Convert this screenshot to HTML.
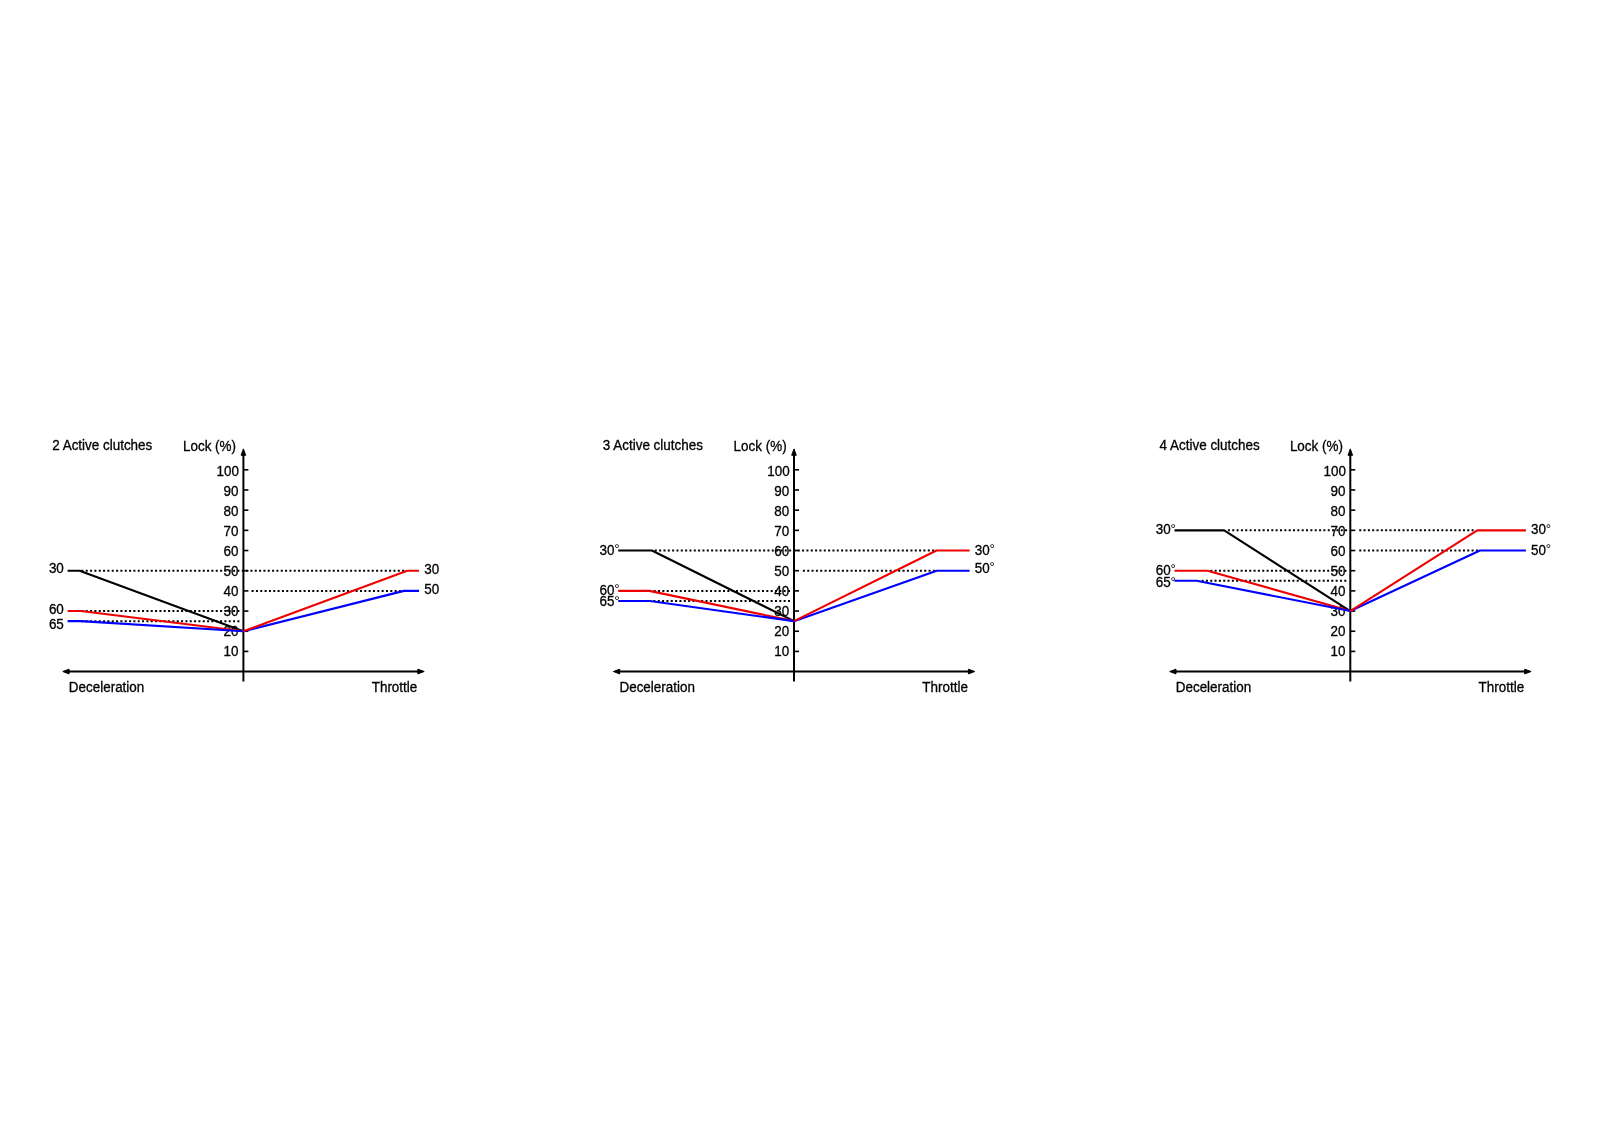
<!DOCTYPE html>
<html><head><meta charset="utf-8"><title>Active clutches lock</title>
<style>
html,body{margin:0;padding:0;background:#fff;}
svg{display:block;will-change:transform;}
.t{font-family:"Liberation Sans", Arial, sans-serif;font-size:14px;fill:#000;stroke:#000;stroke-width:0.3px;}
.a{stroke:#000;stroke-width:2;fill:none;}
.ah{fill:#000;stroke:#000;stroke-width:1;stroke-linejoin:round;}
.k{stroke:#000;stroke-width:1.6;}
.dt{fill:#000;}
.dg{stroke:none;}
.r{stroke:#ee0000;stroke-width:2.1;fill:none;stroke-linejoin:round;}
.b{stroke:#00f;stroke-width:2.1;fill:none;stroke-linejoin:round;}
.n{stroke:#000;stroke-width:2.1;fill:none;stroke-linejoin:round;}
</style></head>
<body>
<svg width="1600" height="1131" viewBox="0 0 1600 1131">
<rect width="1600" height="1131" fill="#fff"/>
<text transform="translate(52.2,449.65) scale(0.96,1)" class="t">2 Active clutches</text>
<text transform="translate(183,450.5) scale(0.96,1)" class="t">Lock (%)</text>
<path d="M81.4 569.7h2v2h-2zM85.73 569.7h2v2h-2zM90.07 569.7h2v2h-2zM94.4 569.7h2v2h-2zM98.74 569.7h2v2h-2zM103.07 569.7h2v2h-2zM107.4 569.7h2v2h-2zM111.74 569.7h2v2h-2zM116.07 569.7h2v2h-2zM120.4 569.7h2v2h-2zM124.74 569.7h2v2h-2zM129.07 569.7h2v2h-2zM133.41 569.7h2v2h-2zM137.74 569.7h2v2h-2zM142.07 569.7h2v2h-2zM146.41 569.7h2v2h-2zM150.74 569.7h2v2h-2zM155.07 569.7h2v2h-2zM159.41 569.7h2v2h-2zM163.74 569.7h2v2h-2zM168.08 569.7h2v2h-2zM172.41 569.7h2v2h-2zM176.74 569.7h2v2h-2zM181.08 569.7h2v2h-2zM185.41 569.7h2v2h-2zM189.74 569.7h2v2h-2zM194.08 569.7h2v2h-2zM198.41 569.7h2v2h-2zM202.75 569.7h2v2h-2zM207.08 569.7h2v2h-2zM211.41 569.7h2v2h-2zM215.75 569.7h2v2h-2zM220.08 569.7h2v2h-2zM224.41 569.7h2v2h-2zM228.75 569.7h2v2h-2zM233.08 569.7h2v2h-2zM237.42 569.7h2v2h-2zM241.75 569.7h2v2h-2zM246.08 569.7h2v2h-2zM250.42 569.7h2v2h-2zM254.75 569.7h2v2h-2zM259.09 569.7h2v2h-2zM263.42 569.7h2v2h-2zM267.75 569.7h2v2h-2zM272.09 569.7h2v2h-2zM276.42 569.7h2v2h-2zM280.75 569.7h2v2h-2zM285.09 569.7h2v2h-2zM289.42 569.7h2v2h-2zM293.76 569.7h2v2h-2zM298.09 569.7h2v2h-2zM302.42 569.7h2v2h-2zM306.76 569.7h2v2h-2zM311.09 569.7h2v2h-2zM315.42 569.7h2v2h-2zM319.76 569.7h2v2h-2zM324.09 569.7h2v2h-2zM328.43 569.7h2v2h-2zM332.76 569.7h2v2h-2zM337.09 569.7h2v2h-2zM341.43 569.7h2v2h-2zM345.76 569.7h2v2h-2zM350.09 569.7h2v2h-2zM354.43 569.7h2v2h-2zM358.76 569.7h2v2h-2zM363.1 569.7h2v2h-2zM367.43 569.7h2v2h-2zM371.76 569.7h2v2h-2zM376.1 569.7h2v2h-2zM380.43 569.7h2v2h-2zM384.76 569.7h2v2h-2zM389.1 569.7h2v2h-2zM393.43 569.7h2v2h-2zM397.77 569.7h2v2h-2zM402.1 569.7h2v2h-2z" class="dt"/>
<path d="M251.6 589.88h2v2h-2zM255.93 589.88h2v2h-2zM260.27 589.88h2v2h-2zM264.6 589.88h2v2h-2zM268.94 589.88h2v2h-2zM273.27 589.88h2v2h-2zM277.61 589.88h2v2h-2zM281.94 589.88h2v2h-2zM286.27 589.88h2v2h-2zM290.61 589.88h2v2h-2zM294.94 589.88h2v2h-2zM299.28 589.88h2v2h-2zM303.61 589.88h2v2h-2zM307.95 589.88h2v2h-2zM312.28 589.88h2v2h-2zM316.61 589.88h2v2h-2zM320.95 589.88h2v2h-2zM325.28 589.88h2v2h-2zM329.62 589.88h2v2h-2zM333.95 589.88h2v2h-2zM338.29 589.88h2v2h-2zM342.62 589.88h2v2h-2zM346.95 589.88h2v2h-2zM351.29 589.88h2v2h-2zM355.62 589.88h2v2h-2zM359.96 589.88h2v2h-2zM364.29 589.88h2v2h-2zM368.63 589.88h2v2h-2zM372.96 589.88h2v2h-2zM377.29 589.88h2v2h-2zM381.63 589.88h2v2h-2zM385.96 589.88h2v2h-2zM390.3 589.88h2v2h-2zM394.63 589.88h2v2h-2zM398.97 589.88h2v2h-2zM403.3 589.88h2v2h-2z" class="dt"/>
<path d="M81.4 610.06h2v2h-2zM85.73 610.06h2v2h-2zM90.07 610.06h2v2h-2zM94.4 610.06h2v2h-2zM98.73 610.06h2v2h-2zM103.07 610.06h2v2h-2zM107.4 610.06h2v2h-2zM111.73 610.06h2v2h-2zM116.07 610.06h2v2h-2zM120.4 610.06h2v2h-2zM124.73 610.06h2v2h-2zM129.07 610.06h2v2h-2zM133.4 610.06h2v2h-2zM137.73 610.06h2v2h-2zM142.07 610.06h2v2h-2zM146.4 610.06h2v2h-2zM150.73 610.06h2v2h-2zM155.07 610.06h2v2h-2zM159.4 610.06h2v2h-2zM163.73 610.06h2v2h-2zM168.07 610.06h2v2h-2zM172.4 610.06h2v2h-2zM176.73 610.06h2v2h-2zM181.07 610.06h2v2h-2zM185.4 610.06h2v2h-2zM189.73 610.06h2v2h-2zM194.07 610.06h2v2h-2zM198.4 610.06h2v2h-2zM202.73 610.06h2v2h-2zM207.07 610.06h2v2h-2zM211.4 610.06h2v2h-2zM215.73 610.06h2v2h-2zM220.07 610.06h2v2h-2zM224.4 610.06h2v2h-2zM228.73 610.06h2v2h-2zM233.07 610.06h2v2h-2zM237.4 610.06h2v2h-2z" class="dt"/>
<path d="M81.4 620.15h2v2h-2zM85.73 620.15h2v2h-2zM90.07 620.15h2v2h-2zM94.4 620.15h2v2h-2zM98.73 620.15h2v2h-2zM103.07 620.15h2v2h-2zM107.4 620.15h2v2h-2zM111.73 620.15h2v2h-2zM116.07 620.15h2v2h-2zM120.4 620.15h2v2h-2zM124.73 620.15h2v2h-2zM129.07 620.15h2v2h-2zM133.4 620.15h2v2h-2zM137.73 620.15h2v2h-2zM142.07 620.15h2v2h-2zM146.4 620.15h2v2h-2zM150.73 620.15h2v2h-2zM155.07 620.15h2v2h-2zM159.4 620.15h2v2h-2zM163.73 620.15h2v2h-2zM168.07 620.15h2v2h-2zM172.4 620.15h2v2h-2zM176.73 620.15h2v2h-2zM181.07 620.15h2v2h-2zM185.4 620.15h2v2h-2zM189.73 620.15h2v2h-2zM194.07 620.15h2v2h-2zM198.4 620.15h2v2h-2zM202.73 620.15h2v2h-2zM207.07 620.15h2v2h-2zM211.4 620.15h2v2h-2zM215.73 620.15h2v2h-2zM220.07 620.15h2v2h-2zM224.4 620.15h2v2h-2zM228.73 620.15h2v2h-2zM233.07 620.15h2v2h-2zM237.4 620.15h2v2h-2z" class="dt"/>
<line x1="243.4" y1="455" x2="243.4" y2="681.5" class="a"/>
<path d="M243.4 448.9 L245.7 455.3 L241.1 455.3 Z" class="ah"/>
<line x1="68.4" y1="671.6" x2="418.4" y2="671.6" class="a"/>
<path d="M62.8 671.5 L69.1 669.2 L69.1 673.9 Z" class="ah"/>
<path d="M424.2 671.5 L417.8 669.2 L417.8 673.9 Z" class="ah"/>
<line x1="243.4" y1="651.42" x2="248.4" y2="651.42" class="k"/>
<text transform="translate(223.6,656.25) scale(0.96,1)" class="t">10</text>
<line x1="243.4" y1="631.24" x2="248.4" y2="631.24" class="k"/>
<text transform="translate(223.6,636.2) scale(0.96,1)" class="t">20</text>
<line x1="243.4" y1="611.06" x2="248.4" y2="611.06" class="k"/>
<text transform="translate(223.6,616.15) scale(0.96,1)" class="t">30</text>
<line x1="243.4" y1="590.88" x2="248.4" y2="590.88" class="k"/>
<text transform="translate(223.6,596.1) scale(0.96,1)" class="t">40</text>
<line x1="243.4" y1="570.7" x2="248.4" y2="570.7" class="k"/>
<text transform="translate(223.6,576.05) scale(0.96,1)" class="t">50</text>
<line x1="243.4" y1="550.52" x2="248.4" y2="550.52" class="k"/>
<text transform="translate(223.6,556) scale(0.96,1)" class="t">60</text>
<line x1="243.4" y1="530.34" x2="248.4" y2="530.34" class="k"/>
<text transform="translate(223.6,535.95) scale(0.96,1)" class="t">70</text>
<line x1="243.4" y1="510.16" x2="248.4" y2="510.16" class="k"/>
<text transform="translate(223.6,515.9) scale(0.96,1)" class="t">80</text>
<line x1="243.4" y1="489.98" x2="248.4" y2="489.98" class="k"/>
<text transform="translate(223.6,495.85) scale(0.96,1)" class="t">90</text>
<line x1="243.4" y1="469.8" x2="248.4" y2="469.8" class="k"/>
<text transform="translate(216.6,475.8) scale(0.96,1)" class="t">100</text>
<text transform="translate(68.85,691.7) scale(0.96,1)" class="t">Deceleration</text>
<text transform="translate(371.7,691.7) scale(0.96,1)" class="t">Throttle</text>
<polyline points="67.6,570.7 79.6,570.7 243.4,631.24" class="n"/>
<polyline points="67.6,611.06 80.9,611.06 243.4,631.24" class="r"/>
<polyline points="67.6,621.15 80.6,621.15 243.4,631.24" class="b"/>
<polyline points="243.4,631.24 403.9,590.88 419,590.88" class="b"/>
<polyline points="243.4,631.24 407.2,570.7 419,570.7" class="r"/>
<text transform="translate(48.9,572.75) scale(0.96,1)" class="t">30</text>
<text transform="translate(48.9,614.45) scale(0.96,1)" class="t">60</text>
<text transform="translate(48.9,628.8) scale(0.96,1)" class="t">65</text>
<text transform="translate(424.2,574) scale(0.96,1)" class="t">30</text>
<text transform="translate(424.2,594.2) scale(0.96,1)" class="t">50</text>
<text transform="translate(602.8,449.65) scale(0.96,1)" class="t">3 Active clutches</text>
<text transform="translate(733.6,450.5) scale(0.96,1)" class="t">Lock (%)</text>
<path d="M654.8 549.52h2v2h-2zM659.13 549.52h2v2h-2zM663.47 549.52h2v2h-2zM667.8 549.52h2v2h-2zM672.13 549.52h2v2h-2zM676.46 549.52h2v2h-2zM680.8 549.52h2v2h-2zM685.13 549.52h2v2h-2zM689.46 549.52h2v2h-2zM693.8 549.52h2v2h-2zM698.13 549.52h2v2h-2zM702.46 549.52h2v2h-2zM706.79 549.52h2v2h-2zM711.13 549.52h2v2h-2zM715.46 549.52h2v2h-2zM719.79 549.52h2v2h-2zM724.12 549.52h2v2h-2zM728.46 549.52h2v2h-2zM732.79 549.52h2v2h-2zM737.12 549.52h2v2h-2zM741.46 549.52h2v2h-2zM745.79 549.52h2v2h-2zM750.12 549.52h2v2h-2zM754.45 549.52h2v2h-2zM758.79 549.52h2v2h-2zM763.12 549.52h2v2h-2zM767.45 549.52h2v2h-2zM771.79 549.52h2v2h-2zM776.12 549.52h2v2h-2zM780.45 549.52h2v2h-2zM784.78 549.52h2v2h-2zM789.12 549.52h2v2h-2zM793.45 549.52h2v2h-2zM797.78 549.52h2v2h-2zM802.12 549.52h2v2h-2zM806.45 549.52h2v2h-2zM810.78 549.52h2v2h-2zM815.11 549.52h2v2h-2zM819.45 549.52h2v2h-2zM823.78 549.52h2v2h-2zM828.11 549.52h2v2h-2zM832.45 549.52h2v2h-2zM836.78 549.52h2v2h-2zM841.11 549.52h2v2h-2zM845.44 549.52h2v2h-2zM849.78 549.52h2v2h-2zM854.11 549.52h2v2h-2zM858.44 549.52h2v2h-2zM862.77 549.52h2v2h-2zM867.11 549.52h2v2h-2zM871.44 549.52h2v2h-2zM875.77 549.52h2v2h-2zM880.11 549.52h2v2h-2zM884.44 549.52h2v2h-2zM888.77 549.52h2v2h-2zM893.1 549.52h2v2h-2zM897.44 549.52h2v2h-2zM901.77 549.52h2v2h-2zM906.1 549.52h2v2h-2zM910.44 549.52h2v2h-2zM914.77 549.52h2v2h-2zM919.1 549.52h2v2h-2zM923.43 549.52h2v2h-2zM927.77 549.52h2v2h-2zM932.1 549.52h2v2h-2z" class="dt"/>
<path d="M802.9 569.7h2v2h-2zM807.23 569.7h2v2h-2zM811.57 569.7h2v2h-2zM815.9 569.7h2v2h-2zM820.23 569.7h2v2h-2zM824.57 569.7h2v2h-2zM828.9 569.7h2v2h-2zM833.23 569.7h2v2h-2zM837.57 569.7h2v2h-2zM841.9 569.7h2v2h-2zM846.23 569.7h2v2h-2zM850.57 569.7h2v2h-2zM854.9 569.7h2v2h-2zM859.23 569.7h2v2h-2zM863.57 569.7h2v2h-2zM867.9 569.7h2v2h-2zM872.23 569.7h2v2h-2zM876.57 569.7h2v2h-2zM880.9 569.7h2v2h-2zM885.23 569.7h2v2h-2zM889.57 569.7h2v2h-2zM893.9 569.7h2v2h-2zM898.23 569.7h2v2h-2zM902.57 569.7h2v2h-2zM906.9 569.7h2v2h-2zM911.23 569.7h2v2h-2zM915.57 569.7h2v2h-2zM919.9 569.7h2v2h-2zM924.23 569.7h2v2h-2zM928.57 569.7h2v2h-2zM932.9 569.7h2v2h-2z" class="dt"/>
<path d="M653.7 589.88h2v2h-2zM658.03 589.88h2v2h-2zM662.36 589.88h2v2h-2zM666.7 589.88h2v2h-2zM671.03 589.88h2v2h-2zM675.36 589.88h2v2h-2zM679.69 589.88h2v2h-2zM684.03 589.88h2v2h-2zM688.36 589.88h2v2h-2zM692.69 589.88h2v2h-2zM697.02 589.88h2v2h-2zM701.35 589.88h2v2h-2zM705.69 589.88h2v2h-2zM710.02 589.88h2v2h-2zM714.35 589.88h2v2h-2zM718.68 589.88h2v2h-2zM723.02 589.88h2v2h-2zM727.35 589.88h2v2h-2zM731.68 589.88h2v2h-2zM736.01 589.88h2v2h-2zM740.35 589.88h2v2h-2zM744.68 589.88h2v2h-2zM749.01 589.88h2v2h-2zM753.34 589.88h2v2h-2zM757.67 589.88h2v2h-2zM762.01 589.88h2v2h-2zM766.34 589.88h2v2h-2zM770.67 589.88h2v2h-2zM775 589.88h2v2h-2zM779.34 589.88h2v2h-2zM783.67 589.88h2v2h-2zM788 589.88h2v2h-2z" class="dt"/>
<path d="M653.4 599.97h2v2h-2zM657.74 599.97h2v2h-2zM662.08 599.97h2v2h-2zM666.43 599.97h2v2h-2zM670.77 599.97h2v2h-2zM675.11 599.97h2v2h-2zM679.45 599.97h2v2h-2zM683.79 599.97h2v2h-2zM688.14 599.97h2v2h-2zM692.48 599.97h2v2h-2zM696.82 599.97h2v2h-2zM701.16 599.97h2v2h-2zM705.5 599.97h2v2h-2zM709.85 599.97h2v2h-2zM714.19 599.97h2v2h-2zM718.53 599.97h2v2h-2zM722.87 599.97h2v2h-2zM727.21 599.97h2v2h-2zM731.55 599.97h2v2h-2zM735.9 599.97h2v2h-2zM740.24 599.97h2v2h-2zM744.58 599.97h2v2h-2zM748.92 599.97h2v2h-2zM753.26 599.97h2v2h-2zM757.61 599.97h2v2h-2zM761.95 599.97h2v2h-2zM766.29 599.97h2v2h-2zM770.63 599.97h2v2h-2zM774.97 599.97h2v2h-2zM779.32 599.97h2v2h-2zM783.66 599.97h2v2h-2zM788 599.97h2v2h-2z" class="dt"/>
<line x1="794" y1="455" x2="794" y2="681.5" class="a"/>
<path d="M794 448.9 L796.3 455.3 L791.7 455.3 Z" class="ah"/>
<line x1="619" y1="671.6" x2="969" y2="671.6" class="a"/>
<path d="M613.4 671.5 L619.7 669.2 L619.7 673.9 Z" class="ah"/>
<path d="M974.8 671.5 L968.4 669.2 L968.4 673.9 Z" class="ah"/>
<line x1="794" y1="651.42" x2="799" y2="651.42" class="k"/>
<text transform="translate(774.2,656.25) scale(0.96,1)" class="t">10</text>
<line x1="794" y1="631.24" x2="799" y2="631.24" class="k"/>
<text transform="translate(774.2,636.2) scale(0.96,1)" class="t">20</text>
<line x1="794" y1="611.06" x2="799" y2="611.06" class="k"/>
<text transform="translate(774.2,616.15) scale(0.96,1)" class="t">30</text>
<line x1="794" y1="590.88" x2="799" y2="590.88" class="k"/>
<text transform="translate(774.2,596.1) scale(0.96,1)" class="t">40</text>
<line x1="794" y1="570.7" x2="799" y2="570.7" class="k"/>
<text transform="translate(774.2,576.05) scale(0.96,1)" class="t">50</text>
<line x1="794" y1="550.52" x2="799" y2="550.52" class="k"/>
<text transform="translate(774.2,556) scale(0.96,1)" class="t">60</text>
<line x1="794" y1="530.34" x2="799" y2="530.34" class="k"/>
<text transform="translate(774.2,535.95) scale(0.96,1)" class="t">70</text>
<line x1="794" y1="510.16" x2="799" y2="510.16" class="k"/>
<text transform="translate(774.2,515.9) scale(0.96,1)" class="t">80</text>
<line x1="794" y1="489.98" x2="799" y2="489.98" class="k"/>
<text transform="translate(774.2,495.85) scale(0.96,1)" class="t">90</text>
<line x1="794" y1="469.8" x2="799" y2="469.8" class="k"/>
<text transform="translate(767.2,475.8) scale(0.96,1)" class="t">100</text>
<text transform="translate(619.45,691.7) scale(0.96,1)" class="t">Deceleration</text>
<text transform="translate(922.3,691.7) scale(0.96,1)" class="t">Throttle</text>
<polyline points="618.2,550.52 651.9,550.52 794,621.15" class="n"/>
<polyline points="618.2,590.88 649.4,590.88 794,621.15" class="r"/>
<polyline points="618.2,600.97 649.8,600.97 794,621.15" class="b"/>
<polyline points="794,621.15 936.75,570.7 969.6,570.7" class="b"/>
<polyline points="794,621.15 936.5,550.52 969.6,550.52" class="r"/>
<text transform="translate(599.5,554.9) scale(0.96,1)" class="t">30<tspan dx="-0.3" dy="-0.5" class="dg">°</tspan></text>
<text transform="translate(599.5,594.5) scale(0.96,1)" class="t">60<tspan dx="-0.3" dy="-0.5" class="dg">°</tspan></text>
<text transform="translate(599.5,606.2) scale(0.96,1)" class="t">65<tspan dx="-0.3" dy="-0.5" class="dg">°</tspan></text>
<text transform="translate(974.8,554.9) scale(0.96,1)" class="t">30<tspan dx="-0.3" dy="-0.5" class="dg">°</tspan></text>
<text transform="translate(974.8,572.6) scale(0.96,1)" class="t">50<tspan dx="-0.3" dy="-0.5" class="dg">°</tspan></text>
<text transform="translate(1159.6,449.65) scale(0.96,1)" class="t">4 Active clutches</text>
<text transform="translate(1289.9,450.5) scale(0.96,1)" class="t">Lock (%)</text>
<path d="M1227.9 529.34h2v2h-2zM1232.24 529.34h2v2h-2zM1236.58 529.34h2v2h-2zM1240.92 529.34h2v2h-2zM1245.26 529.34h2v2h-2zM1249.6 529.34h2v2h-2zM1253.94 529.34h2v2h-2zM1258.29 529.34h2v2h-2zM1262.63 529.34h2v2h-2zM1266.97 529.34h2v2h-2zM1271.31 529.34h2v2h-2zM1275.65 529.34h2v2h-2zM1279.99 529.34h2v2h-2zM1284.33 529.34h2v2h-2zM1288.67 529.34h2v2h-2zM1293.01 529.34h2v2h-2zM1297.35 529.34h2v2h-2zM1301.69 529.34h2v2h-2zM1306.03 529.34h2v2h-2zM1310.37 529.34h2v2h-2zM1314.71 529.34h2v2h-2zM1319.06 529.34h2v2h-2zM1323.4 529.34h2v2h-2zM1327.74 529.34h2v2h-2zM1332.08 529.34h2v2h-2zM1336.42 529.34h2v2h-2zM1340.76 529.34h2v2h-2zM1345.1 529.34h2v2h-2z" class="dt"/>
<path d="M1359.25 529.34h2v2h-2zM1363.57 529.34h2v2h-2zM1367.89 529.34h2v2h-2zM1372.21 529.34h2v2h-2zM1376.53 529.34h2v2h-2zM1380.86 529.34h2v2h-2zM1385.18 529.34h2v2h-2zM1389.5 529.34h2v2h-2zM1393.82 529.34h2v2h-2zM1398.14 529.34h2v2h-2zM1402.46 529.34h2v2h-2zM1406.78 529.34h2v2h-2zM1411.1 529.34h2v2h-2zM1415.42 529.34h2v2h-2zM1419.75 529.34h2v2h-2zM1424.07 529.34h2v2h-2zM1428.39 529.34h2v2h-2zM1432.71 529.34h2v2h-2zM1437.03 529.34h2v2h-2zM1441.35 529.34h2v2h-2zM1445.67 529.34h2v2h-2zM1449.99 529.34h2v2h-2zM1454.32 529.34h2v2h-2zM1458.64 529.34h2v2h-2zM1462.96 529.34h2v2h-2zM1467.28 529.34h2v2h-2zM1471.6 529.34h2v2h-2z" class="dt"/>
<path d="M1359.25 549.52h2v2h-2zM1363.57 549.52h2v2h-2zM1367.89 549.52h2v2h-2zM1372.21 549.52h2v2h-2zM1376.53 549.52h2v2h-2zM1380.85 549.52h2v2h-2zM1385.17 549.52h2v2h-2zM1389.49 549.52h2v2h-2zM1393.81 549.52h2v2h-2zM1398.13 549.52h2v2h-2zM1402.45 549.52h2v2h-2zM1406.77 549.52h2v2h-2zM1411.09 549.52h2v2h-2zM1415.41 549.52h2v2h-2zM1419.74 549.52h2v2h-2zM1424.06 549.52h2v2h-2zM1428.38 549.52h2v2h-2zM1432.7 549.52h2v2h-2zM1437.02 549.52h2v2h-2zM1441.34 549.52h2v2h-2zM1445.66 549.52h2v2h-2zM1449.98 549.52h2v2h-2zM1454.3 549.52h2v2h-2zM1458.62 549.52h2v2h-2zM1462.94 549.52h2v2h-2zM1467.26 549.52h2v2h-2zM1471.58 549.52h2v2h-2zM1475.9 549.52h2v2h-2z" class="dt"/>
<path d="M1210.3 569.7h2v2h-2zM1214.63 569.7h2v2h-2zM1218.96 569.7h2v2h-2zM1223.29 569.7h2v2h-2zM1227.62 569.7h2v2h-2zM1231.95 569.7h2v2h-2zM1236.27 569.7h2v2h-2zM1240.6 569.7h2v2h-2zM1244.93 569.7h2v2h-2zM1249.26 569.7h2v2h-2zM1253.59 569.7h2v2h-2zM1257.92 569.7h2v2h-2zM1262.25 569.7h2v2h-2zM1266.58 569.7h2v2h-2zM1270.91 569.7h2v2h-2zM1275.24 569.7h2v2h-2zM1279.56 569.7h2v2h-2zM1283.89 569.7h2v2h-2zM1288.22 569.7h2v2h-2zM1292.55 569.7h2v2h-2zM1296.88 569.7h2v2h-2zM1301.21 569.7h2v2h-2zM1305.54 569.7h2v2h-2zM1309.87 569.7h2v2h-2zM1314.2 569.7h2v2h-2zM1318.53 569.7h2v2h-2zM1322.85 569.7h2v2h-2zM1327.18 569.7h2v2h-2zM1331.51 569.7h2v2h-2zM1335.84 569.7h2v2h-2zM1340.17 569.7h2v2h-2zM1344.5 569.7h2v2h-2z" class="dt"/>
<path d="M1201.6 579.79h2v2h-2zM1205.92 579.79h2v2h-2zM1210.25 579.79h2v2h-2zM1214.57 579.79h2v2h-2zM1218.9 579.79h2v2h-2zM1223.22 579.79h2v2h-2zM1227.55 579.79h2v2h-2zM1231.87 579.79h2v2h-2zM1236.19 579.79h2v2h-2zM1240.52 579.79h2v2h-2zM1244.84 579.79h2v2h-2zM1249.17 579.79h2v2h-2zM1253.49 579.79h2v2h-2zM1257.82 579.79h2v2h-2zM1262.14 579.79h2v2h-2zM1266.46 579.79h2v2h-2zM1270.79 579.79h2v2h-2zM1275.11 579.79h2v2h-2zM1279.44 579.79h2v2h-2zM1283.76 579.79h2v2h-2zM1288.08 579.79h2v2h-2zM1292.41 579.79h2v2h-2zM1296.73 579.79h2v2h-2zM1301.06 579.79h2v2h-2zM1305.38 579.79h2v2h-2zM1309.71 579.79h2v2h-2zM1314.03 579.79h2v2h-2zM1318.35 579.79h2v2h-2zM1322.68 579.79h2v2h-2zM1327 579.79h2v2h-2zM1331.33 579.79h2v2h-2zM1335.65 579.79h2v2h-2zM1339.98 579.79h2v2h-2zM1344.3 579.79h2v2h-2z" class="dt"/>
<line x1="1350.3" y1="455" x2="1350.3" y2="681.5" class="a"/>
<path d="M1350.3 448.9 L1352.6 455.3 L1348 455.3 Z" class="ah"/>
<line x1="1175.3" y1="671.6" x2="1525.3" y2="671.6" class="a"/>
<path d="M1169.7 671.5 L1176 669.2 L1176 673.9 Z" class="ah"/>
<path d="M1531.1 671.5 L1524.7 669.2 L1524.7 673.9 Z" class="ah"/>
<line x1="1350.3" y1="651.42" x2="1355.3" y2="651.42" class="k"/>
<text transform="translate(1330.5,656.25) scale(0.96,1)" class="t">10</text>
<line x1="1350.3" y1="631.24" x2="1355.3" y2="631.24" class="k"/>
<text transform="translate(1330.5,636.2) scale(0.96,1)" class="t">20</text>
<line x1="1350.3" y1="611.06" x2="1355.3" y2="611.06" class="k"/>
<text transform="translate(1330.5,616.15) scale(0.96,1)" class="t">30</text>
<line x1="1350.3" y1="590.88" x2="1355.3" y2="590.88" class="k"/>
<text transform="translate(1330.5,596.1) scale(0.96,1)" class="t">40</text>
<line x1="1350.3" y1="570.7" x2="1355.3" y2="570.7" class="k"/>
<text transform="translate(1330.5,576.05) scale(0.96,1)" class="t">50</text>
<line x1="1350.3" y1="550.52" x2="1355.3" y2="550.52" class="k"/>
<text transform="translate(1330.5,556) scale(0.96,1)" class="t">60</text>
<line x1="1350.3" y1="530.34" x2="1355.3" y2="530.34" class="k"/>
<text transform="translate(1330.5,535.95) scale(0.96,1)" class="t">70</text>
<line x1="1350.3" y1="510.16" x2="1355.3" y2="510.16" class="k"/>
<text transform="translate(1330.5,515.9) scale(0.96,1)" class="t">80</text>
<line x1="1350.3" y1="489.98" x2="1355.3" y2="489.98" class="k"/>
<text transform="translate(1330.5,495.85) scale(0.96,1)" class="t">90</text>
<line x1="1350.3" y1="469.8" x2="1355.3" y2="469.8" class="k"/>
<text transform="translate(1323.5,475.8) scale(0.96,1)" class="t">100</text>
<text transform="translate(1175.75,691.7) scale(0.96,1)" class="t">Deceleration</text>
<text transform="translate(1478.6,691.7) scale(0.96,1)" class="t">Throttle</text>
<polyline points="1174.5,530.34 1224.2,530.34 1350.3,611.06" class="n"/>
<polyline points="1174.5,570.7 1207.6,570.7 1350.3,611.06" class="r"/>
<polyline points="1174.5,580.79 1196.6,580.79 1350.3,611.06" class="b"/>
<polyline points="1350.3,611.06 1480,550.52 1525.9,550.52" class="b"/>
<polyline points="1350.3,611.06 1477.2,530.34 1525.9,530.34" class="r"/>
<text transform="translate(1155.8,534.3) scale(0.96,1)" class="t">30<tspan dx="-0.3" dy="-0.5" class="dg">°</tspan></text>
<text transform="translate(1155.8,574.85) scale(0.96,1)" class="t">60<tspan dx="-0.3" dy="-0.5" class="dg">°</tspan></text>
<text transform="translate(1155.8,587.2) scale(0.96,1)" class="t">65<tspan dx="-0.3" dy="-0.5" class="dg">°</tspan></text>
<text transform="translate(1531.1,534.1) scale(0.96,1)" class="t">30<tspan dx="-0.3" dy="-0.5" class="dg">°</tspan></text>
<text transform="translate(1531.1,554.8) scale(0.96,1)" class="t">50<tspan dx="-0.3" dy="-0.5" class="dg">°</tspan></text>
</svg>
</body></html>
